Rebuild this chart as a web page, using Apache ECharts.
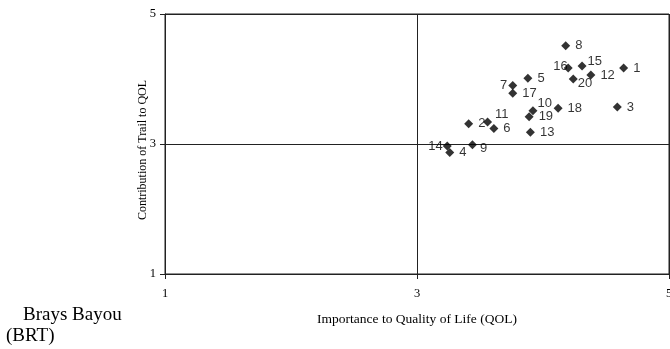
<!DOCTYPE html>
<html>
<head>
<meta charset="utf-8">
<script src="https://cdn.jsdelivr.net/npm/echarts@6/dist/echarts.min.js"></script>
<style>
  html, body { margin: 0; padding: 0; background: #fff; }
  #chart { width: 670px; height: 349px; }
</style>
</head>
<body>
<div id="chart"></div>
<script>
// trail ids and their scores (importance, contribution)
var ids = ['1', '2', '3', '4', '5', '6', '7', '8', '9', '10',
           '11', '12', '13', '14', '15', '16', '17', '18', '19', '20'];
var importance = [4.64, 3.41, 4.59, 3.26, 3.88, 3.61, 3.76, 4.18, 3.44, 3.92,
                  3.56, 4.38, 3.90, 3.24, 4.31, 4.20, 3.76, 4.12, 3.89, 4.24];
var contribution = [4.17, 3.31, 3.57, 2.87, 4.01, 3.24, 3.90, 4.51, 2.99, 3.51,
                    3.34, 4.06, 3.18, 2.97, 4.20, 4.17, 3.78, 3.55, 3.42, 4.00];
var tickVals = [1, 3, 5];

var SERIF = '"Liberation Serif", "DejaVu Serif", serif';
var SANS = '"Liberation Sans", Arial, sans-serif';

// label placement tweaks (left-hand labels, small nudges)
var leftLabels = { '14': [5, 0], '16': [9, -2], '7': [4, 0] };
var nudge = { '15': [-4, -5], '10': [-5, -7], '11': [-2, -7], '20': [-5, 4], '9': [-2, 4] };

var pts = ids.map(function (id, i) {
  var p = { value: [importance[i], contribution[i]], name: id };
  if (leftLabels[id]) {
    p.label = { position: 'left', offset: leftLabels[id] };
  } else if (nudge[id]) {
    p.label = { offset: nudge[id] };
  }
  return p;
});

var ec = echarts.init(document.getElementById('chart'), null, { renderer: 'canvas' });

var axisCommon = {
  type: 'value', min: 1, max: 5, interval: 2,
  axisLine: { show: true, lineStyle: { color: '#222', width: 1 } },
  axisTick: { show: true, length: 5, lineStyle: { color: '#222' } },
  splitLine: { show: true, lineStyle: { color: '#222', width: 1 } },
  axisLabel: { color: '#000', fontFamily: SERIF, fontSize: 12.5,
    formatter: function (v) { return tickVals.indexOf(v) >= 0 ? String(v) : ''; } },
  nameLocation: 'middle',
  nameMoveOverlap: false,
  nameTextStyle: { color: '#000', fontFamily: SERIF }
};

ec.setOption({
  animation: false,
  grid: { left: 165, top: 14, right: 1, bottom: 75, outerBoundsMode: 'none',
    show: true, borderColor: '#222', borderWidth: 1 },
  xAxis: Object.assign({}, axisCommon, {
    name: 'Importance to Quality of Life (QOL)', nameGap: 38,
    nameTextStyle: { color: '#000', fontFamily: SERIF, fontSize: 13.5 },
    axisLabel: Object.assign({}, axisCommon.axisLabel, { margin: 13 })
  }),
  yAxis: Object.assign({}, axisCommon, {
    name: 'Contribution of Trail to QOL', nameGap: 16,
    nameTextStyle: { color: '#000', fontFamily: SERIF, fontSize: 12, padding: [0, 12, 0, 0] },
    axisLabel: Object.assign({}, axisCommon.axisLabel, { margin: 9 })
  }),
  graphic: [
    { type: 'text', left: 23, top: 306, style: { text: 'Brays Bayou', font: '19px ' + SERIF, fill: '#000' } },
    { type: 'text', left: 6, top: 327, style: { text: '(BRT)', font: '19px ' + SERIF, fill: '#000' } }
  ],
  series: [{
    type: 'scatter',
    symbol: 'diamond',
    symbolSize: 9,
    itemStyle: { color: '#000' },
    label: {
      show: true, position: 'right', distance: 5,
      formatter: '{b}', color: '#000', fontFamily: SANS, fontSize: 13
    },
    data: pts
  }]
});
</script>
</body>
</html>
